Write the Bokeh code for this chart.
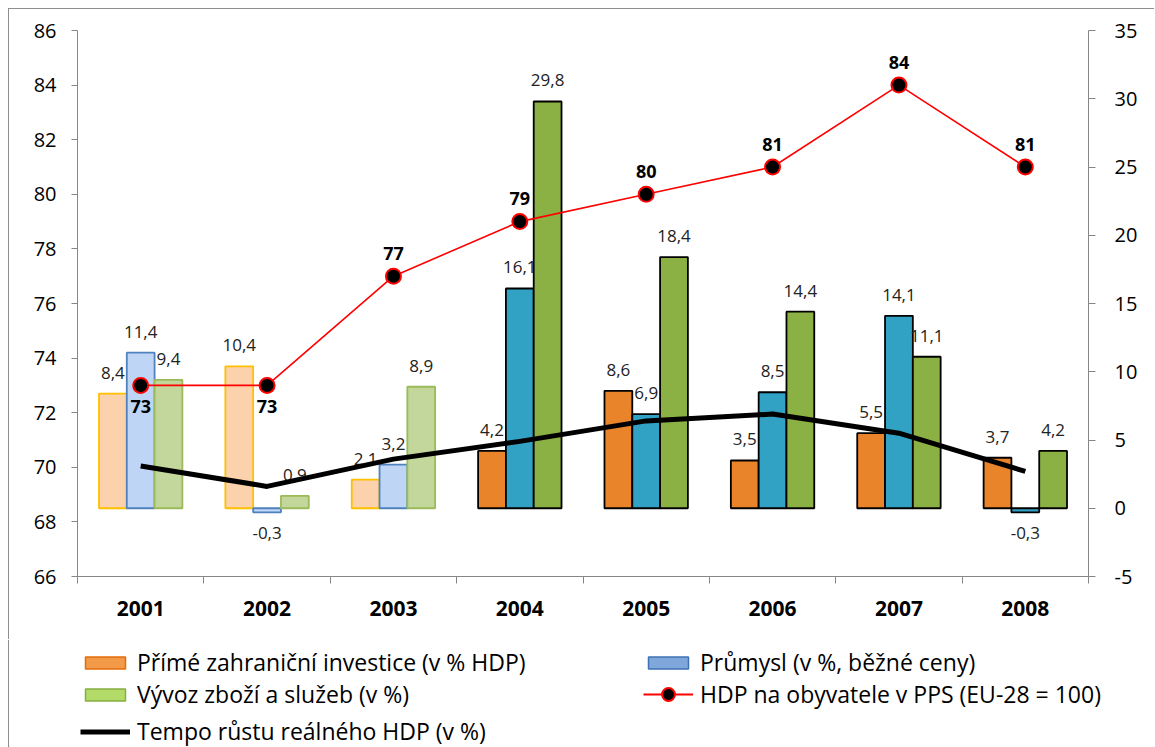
import numpy as np
from bokeh.plotting import figure
from bokeh.models import (Range1d, LinearAxis, FixedTicker, ColumnDataSource,
                          Legend, LegendItem)
from bokeh.embed import file_html
from bokeh.resources import INLINE
from bokeh.core.properties import value

# ---------------- data ----------------
years = [2001, 2002, 2003, 2004, 2005, 2006, 2007, 2008]
fdi = [8.4, 10.4, 2.1, 4.2, 8.6, 3.5, 5.5, 3.7]          # Přímé zahraniční investice (v % HDP)
prumysl = [11.4, -0.3, 3.2, 16.1, 6.9, 8.5, 14.1, -0.3]   # Průmysl (v %, běžné ceny)
vyvoz = [9.4, 0.9, 8.9, 29.8, 18.4, 14.4, 11.1, 4.2]      # Vývoz zboží a služeb (v %)
hdp_pps = [73, 73, 77, 79, 80, 81, 84, 81]                # HDP na obyvatele v PPS (EU-28 = 100)
tempo = [3.1, 1.6, 3.6, 4.9, 6.4, 6.9, 5.5, 2.7]          # Tempo růstu reálného HDP (v %)

left_ticks = [66, 68, 70, 72, 74, 76, 78, 80, 82, 84, 86]
right_ticks = [-5, 0, 5, 10, 15, 20, 25, 30, 35]

FONT = "Open Sans"
GRAY = "#868686"
BORDER = "#8E8E8E"

p = figure(width=1146, height=631, x_range=Range1d(2000.5, 2008.5), y_range=Range1d(66, 86),
           output_backend="svg", toolbar_location=None,
           min_border_left=68, min_border_right=67, min_border_top=21, min_border_bottom=64)
p.extra_y_ranges = {"bars": Range1d(-5, 35)}
p.outline_line_color = None
p.xgrid.visible = False
p.ygrid.visible = False
p.background_fill_color = "white"
p.border_fill_color = "white"
p.styles = {"margin-left": "9px", "margin-top": "9px",
            "box-shadow": f"-1px -1px 0 0 {BORDER}"}

# ---------------- axes ----------------
xa = p.xaxis[0]
xa.ticker = FixedTicker(ticks=years, minor_ticks=[y - 0.5 for y in years] + [years[-1] + 0.5])
xa.major_tick_out = 0
xa.major_tick_in = 0
xa.minor_tick_out = 7
xa.minor_tick_in = 0
xa.minor_tick_line_color = GRAY
xa.axis_line_color = GRAY
xa.major_label_standoff = 17
xa.major_label_text_font = FONT
xa.major_label_text_font_style = "bold"
xa.major_label_text_font_size = "21px"
xa.major_label_text_color = "black"
xa.major_label_overrides = {y: str(y) for y in years}

ya = p.yaxis[0]
ya.ticker = FixedTicker(ticks=left_ticks)
ya.minor_tick_line_color = None
ya.major_tick_out = 6
ya.major_tick_in = 0
ya.major_tick_line_color = GRAY
ya.axis_line_color = GRAY
ya.major_label_standoff = 15
ya.major_label_text_font = FONT
ya.major_label_text_font_size = "20px"
ya.major_label_text_color = "black"

ra = LinearAxis(y_range_name="bars", ticker=FixedTicker(ticks=right_ticks))
ra.minor_tick_line_color = None
ra.major_tick_out = 7
ra.major_tick_in = 0
ra.major_tick_line_color = GRAY
ra.axis_line_color = GRAY
ra.major_label_standoff = 19
ra.major_label_text_font = FONT
ra.major_label_text_font_size = "20px"
ra.major_label_text_color = "black"
ra.major_label_overrides = {t: str(t) for t in right_ticks}
p.add_layout(ra, "right")

# ---------------- bars ----------------
W = 0.22
series = [
    (fdi, -W, ("#FBD2AC", "#FFC000"), ("#EA842A", "black")),
    (prumysl, 0.0, ("#BFD5F6", "#4F81BD"), ("#31A1C4", "black")),
    (vyvoz, W, ("#C3D69B", "#9BBB59"), ("#8BB043", "black")),
]
lab_x, lab_y, lab_t, lab_off = [], [], [], []
for vals, off, faded, solid in series:
    fills = [faded[0] if y <= 2003 else solid[0] for y in years]
    lines = [faded[1] if y <= 2003 else solid[1] for y in years]
    src = ColumnDataSource(dict(x=[y + off for y in years], top=vals, fill=fills, line=lines))
    p.vbar(x="x", top="top", bottom=0, width=W, source=src, y_range_name="bars",
           fill_color="fill", line_color="line", line_width=1.8)
    for y, v in zip(years, vals):
        lab_x.append(y + off)
        lab_y.append(v)
        lab_t.append(f"{v:.1f}".replace(".", ","))
        lab_off.append(-21 if v >= 0 else 21)

lsrc = ColumnDataSource(dict(x=lab_x, y=lab_y, t=lab_t, off=lab_off))
p.text(x="x", y="y", text="t", y_offset="off", source=lsrc, y_range_name="bars",
       text_align="center", text_baseline="middle", text_font=value(FONT),
       text_font_size="17px", text_color="#222222")

# ---------------- lines ----------------
p.line(years, tempo, y_range_name="bars", line_color="black", line_width=5, line_join="round")

p.line(years, hdp_pps, line_color="#FF0000", line_width=1.6)
p.scatter(years, hdp_pps, size=15, fill_color="black", line_color="#FF0000", line_width=2)
hsrc = ColumnDataSource(dict(x=years, y=hdp_pps, t=[str(v) for v in hdp_pps],
                             off=[21 if y <= 2002 else -23 for y in years]))
p.text(x="x", y="y", text="t", y_offset="off", source=hsrc, text_align="center",
       text_baseline="middle", text_font=value(FONT), text_font_size="18px",
       text_font_style="bold", text_color="black")

# ---------------- legend (separate strip below the chart) ----------------
q = figure(width=1146, height=107, x_range=Range1d(0, 1), y_range=Range1d(0, 1),
           output_backend="svg", toolbar_location=None, min_border=0,
           x_axis_location=None, y_axis_location=None)
q.grid.visible = False
q.outline_line_color = None
q.border_fill_color = "white"
q.background_fill_color = "white"
q.styles = {"margin-left": "9px", "box-shadow": f"-1px 0 0 0 {BORDER}"}

# legend proxies: one point each, placed outside the visible range of this strip
lg_fdi = q.vbar(x=[-5], top=[-4], bottom=-5, width=0.1, fill_color="#F39A48",
                line_color="#E46C0A", line_width=1.5)
lg_pr = q.vbar(x=[-5], top=[-4], bottom=-5, width=0.1, fill_color="#7FA7DC",
               line_color="#3F72B4", line_width=1.5)
lg_vy = q.vbar(x=[-5], top=[-4], bottom=-5, width=0.1, fill_color="#B3DB6A",
               line_color="#86AE40", line_width=1.5)
lg_hl = q.line(x=[-5, -4], y=[-5, -4], line_color="#FF0000", line_width=2)
lg_hp = q.scatter(x=[-5], y=[-5], size=14, fill_color="black", line_color="#FF0000", line_width=2)
lg_tp = q.line(x=[-5, -4], y=[-5, -4], line_color="black", line_width=5)


def make_legend(label, renderers, loc, gh):
    return Legend(items=[LegendItem(label=label, renderers=renderers)], location=loc,
                  border_line_color=None, background_fill_alpha=0, padding=0, margin=0,
                  spacing=0, label_standoff=7, glyph_width=50, glyph_height=gh,
                  label_height=32, label_text_font=FONT, label_text_font_size="23px",
                  label_text_color="black")


col1, col2 = 71, 634
q.add_layout(make_legend("Přímé zahraniční investice (v % HDP)", [lg_fdi], (col1, 69), 15))
q.add_layout(make_legend("Průmysl (v %, běžné ceny)", [lg_pr], (col2, 69), 15))
q.add_layout(make_legend("Vývoz zboží a služeb (v %)", [lg_vy], (col1, 37), 15))
q.add_layout(make_legend("HDP na obyvatele v PPS (EU-28 = 100)", [lg_hl, lg_hp], (col2, 37), 32))
q.add_layout(make_legend("Tempo růstu reálného HDP (v %)", [lg_tp], (col1, 0), 15))

open("out.html", "w").write(file_html([p, q], INLINE))
